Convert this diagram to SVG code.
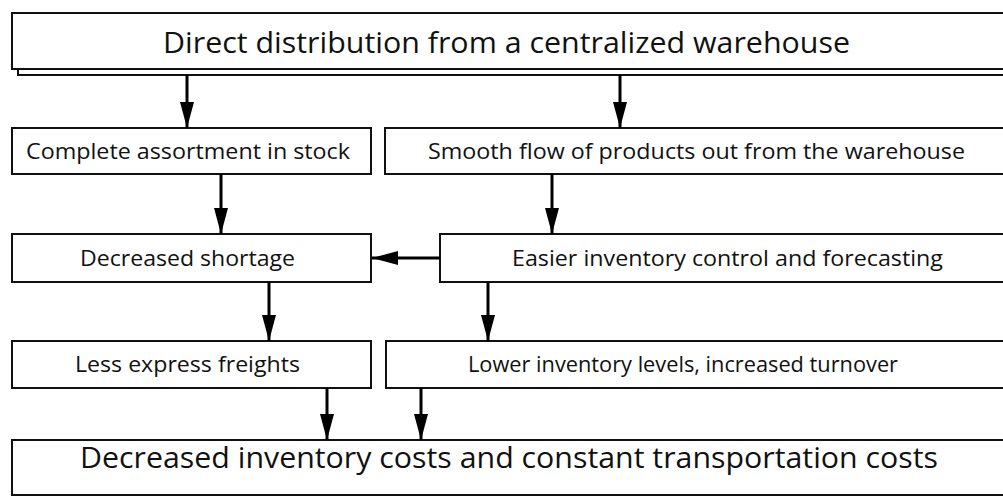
<svg xmlns="http://www.w3.org/2000/svg" width="1003" height="496" viewBox="0 0 1003 496">
<style>
.box{fill:#fff;stroke:#111;stroke-width:2}
.shadow{fill:#fff;stroke:#111;stroke-width:2}
.t{font-family:"Open Sans","Liberation Sans",sans-serif;fill:#111;text-anchor:middle}
.s{font-size:22px}
.l{font-size:30px}
.c{stroke:#000;stroke-width:3;fill:none;marker-end:url(#ah)}
</style>
<defs>
<marker id="ah" markerUnits="userSpaceOnUse" markerWidth="26" markerHeight="16" viewBox="0 0 26 16" refX="26" refY="7" orient="auto">
<path d="M0,0 L26,7 L0,14 Z" fill="#000"/>
</marker>
</defs>
<rect width="1003" height="496" fill="#fff"/>
<g id="n-top">
<rect class="shadow" x="18" y="19" width="1000" height="56"/>
<rect class="box" x="12" y="13" width="1000" height="56"/>
<text class="t l" x="506.5" y="53" textLength="687" lengthAdjust="spacingAndGlyphs">Direct distribution from a centralized warehouse</text>
</g>
<g id="n-complete">
<rect class="box" x="12" y="128" width="359" height="46"/>
<text class="t s" x="188" y="159" textLength="324" lengthAdjust="spacingAndGlyphs">Complete assortment in stock</text>
</g>
<g id="n-smooth">
<rect class="box" x="385" y="128" width="630" height="46"/>
<text class="t s" x="696.5" y="159" textLength="537" lengthAdjust="spacingAndGlyphs">Smooth flow of products out from the warehouse</text>
</g>
<g id="n-shortage">
<rect class="box" x="12" y="234" width="359" height="48"/>
<text class="t s" x="187.5" y="265.5" textLength="215" lengthAdjust="spacingAndGlyphs">Decreased shortage</text>
</g>
<g id="n-easier">
<rect class="box" x="440" y="234" width="575" height="48"/>
<text class="t s" x="727.5" y="265.5" textLength="431" lengthAdjust="spacingAndGlyphs">Easier inventory control and forecasting</text>
</g>
<g id="n-less">
<rect class="box" x="12" y="341" width="359" height="47"/>
<text class="t s" x="187.5" y="372" textLength="225" lengthAdjust="spacingAndGlyphs">Less express freights</text>
</g>
<g id="n-lower">
<rect class="box" x="386" y="341" width="630" height="47"/>
<text class="t s" x="683" y="372" textLength="430" lengthAdjust="spacingAndGlyphs">Lower inventory levels, increased turnover</text>
</g>
<g id="n-bottom">
<rect class="box" x="12" y="440" width="1005" height="55"/>
<text class="t l" x="509" y="468" textLength="858" lengthAdjust="spacingAndGlyphs">Decreased inventory costs and constant transportation costs</text>
</g>
<g id="connectors">
<line class="c" x1="187" y1="75" x2="187" y2="128"/>
<line class="c" x1="620" y1="75" x2="620" y2="128"/>
<line class="c" x1="221" y1="174" x2="221" y2="234"/>
<line class="c" x1="552" y1="174" x2="552" y2="234"/>
<line class="c" x1="440" y1="258" x2="372" y2="258"/>
<line class="c" x1="269" y1="282" x2="269" y2="341"/>
<line class="c" x1="488" y1="282" x2="488" y2="341"/>
<line class="c" x1="327" y1="388" x2="327" y2="440"/>
<line class="c" x1="421" y1="388" x2="421" y2="440"/>
</g>
</svg>
